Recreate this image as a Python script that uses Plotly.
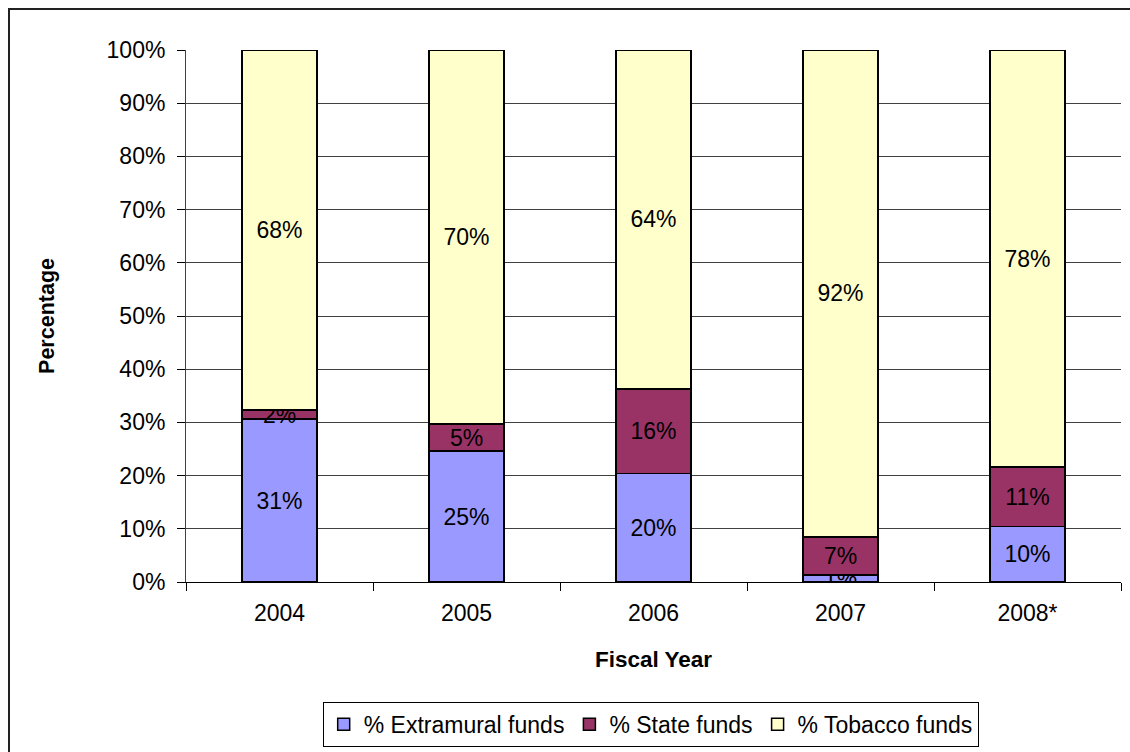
import plotly.graph_objects as go

# Fiscal years and funding shares (percent of total)
years = ["2004", "2005", "2006", "2007", "2008*"]
extramural = [30.6, 24.6, 20.4, 1.3, 10.4]
state = [1.7, 5.1, 15.9, 7.2, 11.2]
tobacco = [67.7, 70.3, 63.7, 91.5, 78.4]

series = [
    ("% Extramural funds", extramural, "#9999FF"),
    ("% State funds", state, "#993366"),
    ("% Tobacco funds", tobacco, "#FFFFCC"),
]

FONT = "Liberation Sans, Arial, sans-serif"

fig = go.Figure()
for name, vals, color in series:
    fig.add_trace(go.Bar(
        x=years, y=vals, name=name,
        marker=dict(color=color, line=dict(color="black", width=1.5)),
        texttemplate="%{y:.0f}%",
        textposition="inside",
        insidetextanchor="middle",
        constraintext="none",
        textfont=dict(family=FONT, size=23, color="black"),
        width=0.4,
    ))

fig.update_layout(
    barmode="stack",
    width=1130, height=752,
    margin=dict(l=186, r=9, t=50, b=170, autoexpand=False),
    paper_bgcolor="white",
    plot_bgcolor="white",
    font=dict(family=FONT, size=23, color="black"),
    showlegend=True,
    legend=dict(
        orientation="h",
        x=0.497, xanchor="center",
        y=-0.225, yanchor="top",
        bordercolor="black", borderwidth=1,
        font=dict(family=FONT, size=23, color="black"),
        traceorder="normal",
        itemclick=False,
    ),
    xaxis=dict(
        title=dict(text="<b>Fiscal Year</b>", font=dict(size=22.5), standoff=26),
        showline=True, linecolor="black", linewidth=1,
        ticks="outside", ticklen=8, tickcolor="black",
        tickson="boundaries",
        ticklabelstandoff=10,
        showgrid=False,
        automargin=False,
    ),
    yaxis=dict(
        title=dict(text="<b>Percentage</b>", font=dict(size=21.5), standoff=46),
        range=[0, 100], dtick=10, ticksuffix="%",
        showline=True, linecolor="#404040", linewidth=1,
        ticks="outside", ticklen=8, tickcolor="black",
        ticklabelstandoff=7,
        showgrid=True, gridcolor="#404040", gridwidth=1,
        zeroline=False,
        automargin=False,
    ),
    shapes=[dict(
        type="rect", xref="paper", yref="paper",
        x0=-0.1893, x1=1.2, y0=-0.6, y1=1.077,
        line=dict(color="#222222", width=2),
        layer="below",
    )],
)

fig.write_html("out.html")
